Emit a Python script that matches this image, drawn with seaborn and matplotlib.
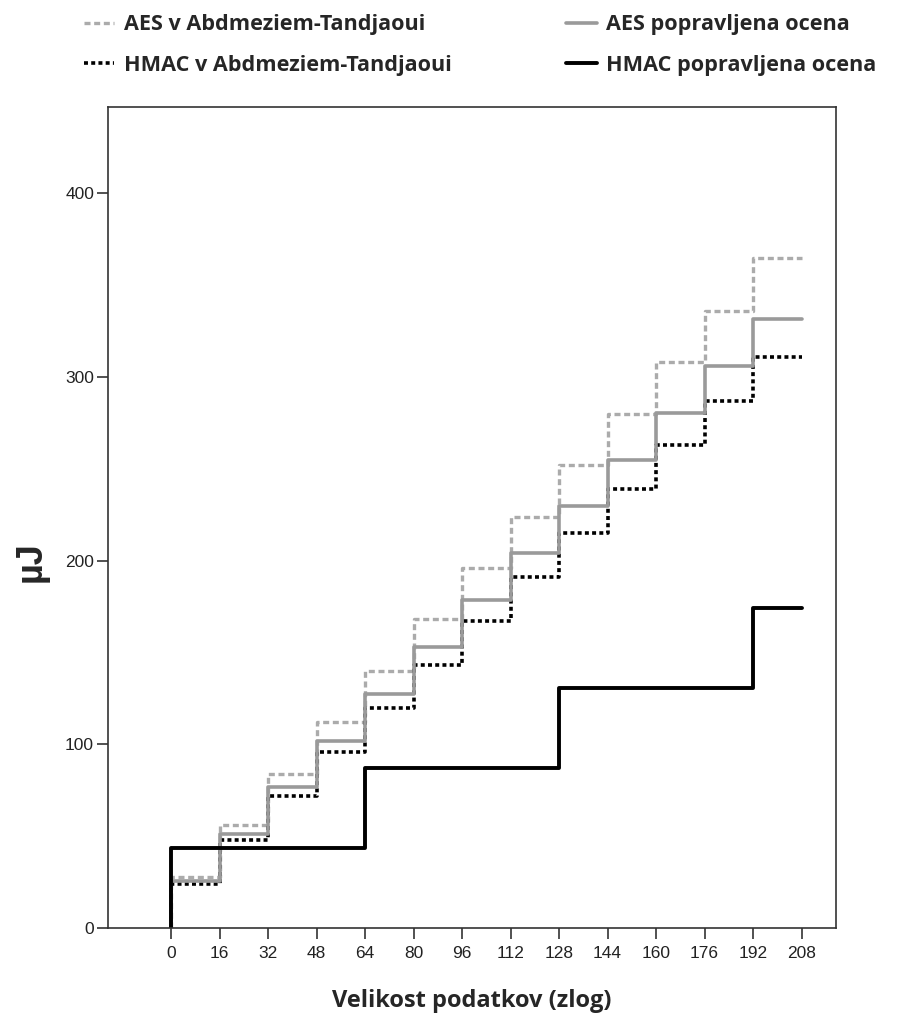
import numpy as np
import pandas as pd
import seaborn as sns
import matplotlib.pyplot as plt

# data sizes (bytes) where each step starts
sizes = [0, 16, 32, 48, 64, 80, 96, 112, 128, 144, 160, 176, 192]
aes_abd = [28, 56, 84, 112, 140, 168, 196, 224, 252, 280, 308, 336, 365]
hmac_abd = [24, 48, 72, 96, 120, 143, 167, 191, 215, 239, 263, 287, 311]
aes_corr = [25.5, 51, 76.5, 102, 127.5, 153, 178.5, 204, 229.5, 255, 280.5, 306, 331.5]
hmac_sizes = [0, 64, 128, 192]
hmac_corr = [43.5, 87, 130.5, 174]
x_end = 208
x_ticks = [0, 16, 32, 48, 64, 80, 96, 112, 128, 144, 160, 176, 192, 208]


def step_df(xs, ys):
    # start at (0,0), hold last value until the end
    x = [0] + list(xs) + [x_end]
    y = [0] + list(ys) + [ys[-1]]
    return pd.DataFrame({'x': x, 'y': y})


sns.set_style('ticks')
plt.rcParams['font.family'] = ['Liberation Sans', 'DejaVu Sans']
bold_font = ['Open Sans', 'DejaVu Sans']

fig = plt.figure(figsize=(9, 10.13), dpi=100)
ax = fig.add_axes([0.12, 0.0839, 0.809, 0.8105])

series = [
    ('AES v Abdmeziem-Tandjaoui', sizes, aes_abd, '#ababab', (0, (1.8, 1.1)), 2.4),
    ('HMAC v Abdmeziem-Tandjaoui', sizes, hmac_abd, 'black', (0, (1.1, 0.9)), 2.6),
    ('AES popravljena ocena', sizes, aes_corr, '#9a9a9a', '-', 2.6),
    ('HMAC popravljena ocena', hmac_sizes, hmac_corr, 'black', '-', 2.8),
]

for label, xs, ys, col, ls, lw in series:
    d = step_df(xs, ys)
    sns.lineplot(data=d, x='x', y='y', ax=ax, estimator=None, sort=False,
                 drawstyle='steps-post', color=col, linestyle=ls, linewidth=lw,
                 label=label)

ax.set_xlim(-20.8, 219.4)
ax.set_ylim(0, 447)
ax.set_xticks(x_ticks)
ax.set_yticks([0, 100, 200, 300, 400])
ax.tick_params(axis='both', direction='out', length=8, width=1.2, color='#333333',
               labelcolor='#222222')
ax.tick_params(axis='x', labelsize=12.5, pad=5)
ax.tick_params(axis='y', labelsize=12.5, pad=2)
for s in ax.spines.values():
    s.set_visible(True)
    s.set_color('#333333')
    s.set_linewidth(1.2)

ax.set_xlabel('Velikost podatkov (zlog)', family=bold_font,
              fontweight='bold', fontsize=17, labelpad=20)
ax.set_ylabel('µJ', family=['Liberation Sans', 'DejaVu Sans'], fontweight='bold',
              fontsize=26)
ax.yaxis.set_label_coords(-0.082, 0.446)

handles, labels = ax.get_legend_handles_labels()
ax.get_legend().remove()
fig.legend(handles, labels, loc='upper left', bbox_to_anchor=(0.088, 0.99),
           ncol=2, frameon=False, handlelength=1.4, handletextpad=0.45,
           columnspacing=5.3, labelspacing=0.9, borderpad=0.2, borderaxespad=0,
           prop={'family': bold_font, 'weight': 'bold', 'size': 15.6})

fig.savefig('out.png', dpi=100)
